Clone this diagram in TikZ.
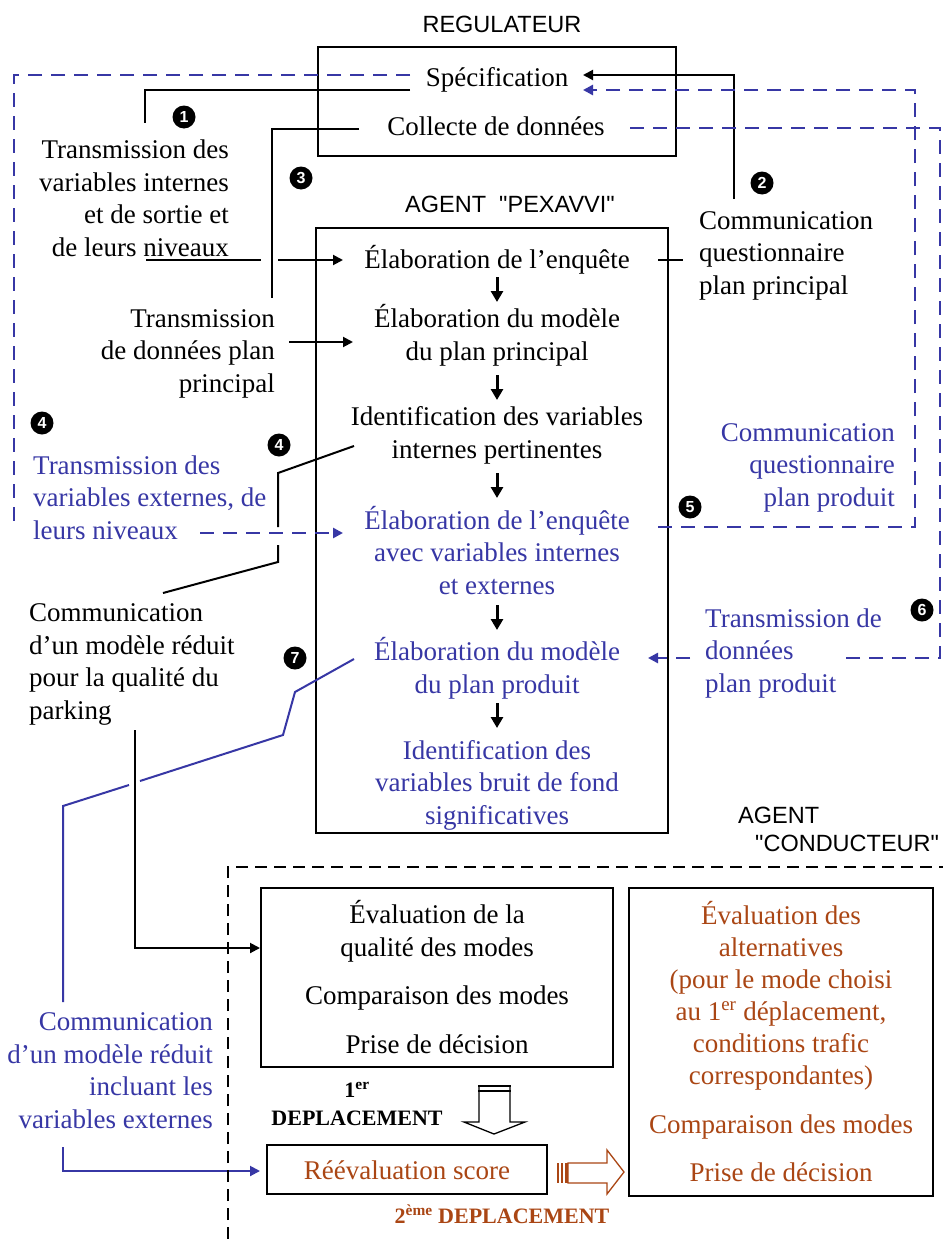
\documentclass[tikz,border=0pt]{standalone}
\usepackage{fontspec}
\setmainfont{Liberation Serif}
\newfontfamily\arialf{Liberation Sans}
\usetikzlibrary{arrows.meta}
\definecolor{bl}{RGB}{55,55,165}
\definecolor{br}{RGB}{170,70,20}
\begin{document}
\begin{tikzpicture}[x=1pt,y=-1pt,
  txt/.style={font=\fontsize{27}{32.5}\selectfont, inner sep=0pt, align=center},
  hdr/.style={font=\arialf\fontsize{23.5}{28}\selectfont, inner sep=0pt},
  box/.style={draw, line width=2.5pt, inner sep=0pt},
  ln/.style={line width=2pt},
  bln/.style={line width=2pt, draw=bl},
  bdash/.style={line width=2.5pt, draw=bl, dash pattern=on 14pt off 9pt},
  tip/.style={-{Triangle[length=10pt,width=10pt]}},
  btip/.style={-{Triangle[length=10pt,width=10pt,fill=bl]}},
  mk/.style={circle, fill=black, text=white, inner sep=0pt, minimum size=23pt, font=\arialf\bfseries\fontsize{16}{16}\selectfont},
  down/.style={line width=3pt, -{Triangle[length=11pt,width=12pt]}},
  dep/.style={font=\bfseries\fontsize{22}{28}\selectfont, inner sep=0pt, align=center},
]
\useasboundingbox (0,0) rectangle (943,1239);
\fill[white] (0,0) rectangle (943,1239);

% ---------- REGULATEUR ----------
\node[hdr, anchor=base] (regt) at (502,33) {REGULATEUR};
\node[box, minimum width=358pt, minimum height=109pt] (reg) at (497,101.5) {};
\node[txt, anchor=base] (spec) at (497,86) {Spécification};
\node[txt, anchor=base] (coll) at (496,135) {Collecte de données};

% ---------- PEXAVVI ----------
\node[hdr, anchor=base] (pext) at (510,212) {AGENT\ \ "PEXAVVI"};
\node[box, minimum width=352pt, minimum height=605pt] (pex) at (492,530.5) {};
\node[txt, anchor=base] (e1) at (497,268) {Élaboration de l’enquête};
\node[txt, anchor=base] (e2) at (497,360) {Élaboration du modèle\\du plan principal};
\node[txt, anchor=base] (e3) at (497,458) {Identification des variables\\internes pertinentes};
\node[txt, anchor=base, text=bl] (e4) at (497,594) {Élaboration de l’enquête\\avec variables internes\\et externes};
\node[txt, anchor=base, text=bl] (e5) at (497,693) {Élaboration du modèle\\du plan produit};
\node[txt, anchor=base, text=bl] (e6) at (497,824) {Identification des\\variables bruit de fond\\significatives};
\draw[down] (497,277) -- (497,302);
\draw[down] (497,375) -- (497,400);
\draw[down] (497,473) -- (497,498);
\draw[down] (497,605) -- (497,630);
\draw[down] (497,703) -- (497,728);

% ---------- side labels ----------
\node[txt, align=right, anchor=base east] (l1) at (229,256) {Transmission des\\variables internes\\et de sortie et\\de leurs niveaux};
\node[txt, align=right, anchor=base east] (l3) at (275,392) {Transmission\\de données plan\\principal};
\node[txt, align=left, anchor=base west, text=bl] (l4) at (33,539) {Transmission des\\variables externes, de\\leurs niveaux};
\node[txt, align=left, anchor=base west] (l7) at (29,719) {Communication\\d’un modèle réduit\\pour la qualité du\\parking};
\node[txt, align=right, anchor=base east, text=bl] (l8) at (213,1128) {Communication\\d’un modèle réduit\\incluant les\\variables externes};
\node[txt, align=left, anchor=base west] (l2) at (699,294) {Communication\\questionnaire\\plan principal};
\node[txt, align=right, anchor=base east, text=bl] (l5) at (895,506) {Communication\\questionnaire\\plan produit};
\node[txt, align=left, anchor=base west, text=bl] (l6) at (705,692) {Transmission de\\données\\plan produit};

% ---------- markers ----------
\node[mk] (m1) at (184,117) {1};
\node[mk] (m2) at (762,183) {2};
\node[mk] (m3) at (301,178) {3};
\node[mk] (m4a) at (42,423) {4};
\node[mk] (m4b) at (279,445) {4};
\node[mk] (m5) at (690,507) {5};
\node[mk] (m6) at (922,610) {6};
\node[mk] (m7) at (295,658) {7};

% ---------- black connectors ----------
\draw[ln] (410,90) -- (145,90) -- (145,123);
\draw[ln] (359,129) -- (272,129) -- (272,298);
\draw[ln] (146,260) -- (261,260);
\draw[ln, tip] (278,260) -- (343,260);
\draw[ln, tip] (289,342) -- (353,342);
\draw[ln] (354,446) -- (278,473) -- (278,527);
\draw[ln] (278,545) -- (278,562) -- (163,593);
\draw[ln, tip] (734,199) -- (734,75) -- (583,75);
\draw[ln] (658,260) -- (683,260);
\draw[ln, tip] (135,730) -- (135,948) -- (260,948);

% ---------- blue dashed connectors ----------
\draw[bdash] (410,75) -- (14,75) -- (14,530);
\draw[bdash, btip] (200,533) -- (343,533);
\draw[bdash, btip] (658,527) -- (915,527) -- (915,90) -- (583,90);
\draw[bdash] (630,128) -- (940,128) -- (940,658) -- (838,658);
\draw[bdash, btip] (690,658) -- (648,658);

% ---------- blue solid connectors ----------
\draw[bln] (354,659) -- (295,692) -- (283,735) -- (140,781);
\draw[bln] (129,785) -- (63,806) -- (63,1002);
\draw[bln, btip] (63,1147) -- (63,1171) -- (260,1171);

% ---------- CONDUCTEUR ----------
\node[hdr, anchor=base west] (ct1) at (738,823) {AGENT};
\node[hdr, anchor=base west] (ct2) at (755,851) {"CONDUCTEUR"};
\draw[line width=2.5pt, dash pattern=on 12pt off 7pt] (228,1239) -- (228,867) -- (943,867);

\node[box, minimum width=352pt, minimum height=179pt] (ev) at (437,977.5) {};
\node[txt, anchor=base] (ev1) at (437,956) {Évaluation de la\\qualité des modes};
\node[txt, anchor=base] (ev2) at (437,1004) {Comparaison des modes};
\node[txt, anchor=base] (ev3) at (437,1053) {Prise de décision};

\node[box, minimum width=304pt, minimum height=308pt] (alt) at (781,1042) {};
\node[txt, anchor=base, text=br, font=\fontsize{27}{32}\selectfont] (al1) at (781,1084) {Évaluation des\\alternatives\\(pour le mode choisi\\au 1\textsuperscript{er} déplacement,\\conditions trafic\\correspondantes)};
\node[txt, anchor=base, text=br] (al2) at (781,1133) {Comparaison des modes};
\node[txt, anchor=base, text=br] (al3) at (781,1181) {Prise de décision};

\node[box, minimum width=280pt, minimum height=49pt] (ree) at (407,1169.5) {};
\node[txt, anchor=base, text=br] (reet) at (407,1179) {Réévaluation score};

\node[dep, anchor=base] (d1) at (357,1125) {1\textsuperscript{er}\\DEPLACEMENT};
\node[dep, anchor=base, text=br] (d2) at (502,1223) {2\textsuperscript{ème} DEPLACEMENT};

% hollow down arrow
\draw[line width=1.3pt, fill=white] (479,1086) -- (479,1122) -- (464,1122) -- (494,1134) -- (525,1122) -- (510,1122) -- (510,1086);
\draw[line width=2.5pt] (478,1086) -- (511,1086);
\draw[line width=2.5pt] (478,1091) -- (511,1091);

% hollow brown right arrow
\draw[br, line width=1.3pt] (568,1163) -- (607,1163) -- (607,1150) -- (624,1172) -- (607,1194) -- (607,1183) -- (568,1183) -- cycle;
\fill[br] (557,1163) rectangle (559,1183);
\fill[br] (561,1163) rectangle (563,1183);
\fill[br] (565,1163) rectangle (568,1183);
\end{tikzpicture}
\end{document}
